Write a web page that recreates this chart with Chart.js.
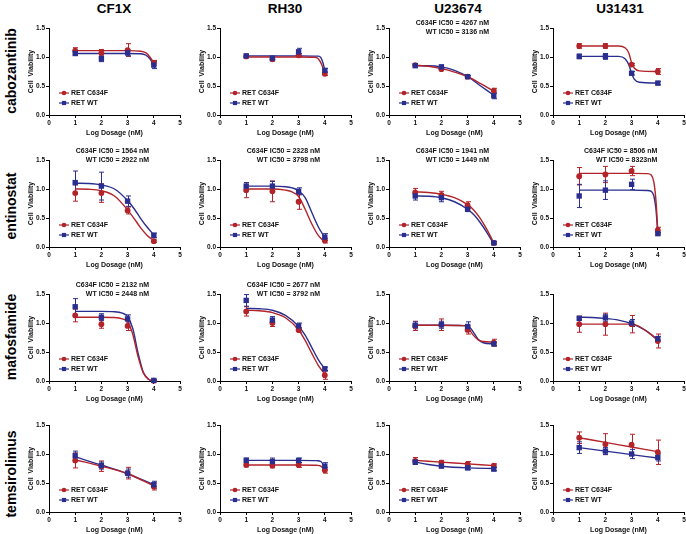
<!DOCTYPE html>
<html>
<head>
<meta charset="utf-8">
<script src="https://cdn.jsdelivr.net/npm/chart.js@4.4.1/dist/chart.umd.min.js"></script>
<style>
  html, body { margin: 0; padding: 0; background: #fff; overflow: hidden; }
  #fig { position: relative; width: 686px; height: 534px; font-family: 'Liberation Sans', Arial, sans-serif; }
  .colTitle { position: absolute; top: 0; font-weight: bold; font-size: 13.5px; line-height: 18px; transform: translateX(-50%); white-space: nowrap; }
  .rowTitle { position: absolute; left: 11px; font-weight: bold; font-size: 14px; line-height: 16px; transform: translate(-50%, -50%) rotate(-90deg); white-space: nowrap; }
  canvas { position: absolute; }
</style>
</head>
<body>
<div id="fig"></div>
<script>
// ---- data ----
const cellLines = ['CF1X', 'RH30', 'U23674', 'U31431'];
const drugs = ['cabozantinib', 'entinostat', 'mafosfamide', 'temsirolimus'];
const seriesNames = ['RET C634F', 'RET WT'];
const doses = [1, 2, 3, 4];
const xTicks = [0, 1, 2, 3, 4, 5];
const yTicks = [0, 0.5, 1.0, 1.5];

// cabozantinib, one row per cell line
const caboC634F = [[1.11, 1.07, 1.12, 0.90], [1.01, 0.96, 1.03, 0.71], [0.86, 0.79, 0.66, 0.42], [1.19, 1.19, 0.87, 0.75]];
const caboC634FErr = [[0.05, 0.06, 0.11, 0.04], [0.02, 0.03, 0.03, 0.03], [0.02, 0.02, 0.02, 0.04], [0.04, 0.04, 0.02, 0.05]];
const caboWT = [[1.06, 0.97, 1.07, 0.86], [1.02, 0.98, 1.09, 0.77], [0.85, 0.83, 0.66, 0.33], [1.01, 1.01, 0.72, 0.55]];
const caboWTErr = [[0.03, 0.05, 0.05, 0.06], [0.02, 0.02, 0.06, 0.03], [0.02, 0.03, 0.02, 0.05], [0.04, 0.05, 0.03, 0.03]];
const caboC634FFit = [
  [[1, 1.11], [2, 1.11], [3, 1.11], [3.5, 1.10], [3.7, 1.07], [3.85, 1.0], [4, 0.90]],
  [[1, 1.0], [2, 1.0], [3, 1.0], [3.6, 0.995], [3.75, 0.97], [3.88, 0.87], [4, 0.71]],
  [[1, 0.86], [1.5, 0.84], [2, 0.80], [2.5, 0.74], [3, 0.66], [3.5, 0.54], [4, 0.41]],
  [[1, 1.19], [2.5, 1.19], [2.75, 1.16], [2.9, 1.06], [3.0, 0.90], [3.1, 0.81], [3.3, 0.76], [4, 0.75]]
];
const caboWTFit = [
  [[1, 1.06], [2, 1.06], [3, 1.06], [3.5, 1.055], [3.7, 1.03], [3.85, 0.97], [4, 0.86]],
  [[1, 1.02], [2, 1.02], [3, 1.02], [3.75, 1.015], [3.85, 0.99], [3.93, 0.90], [4, 0.77]],
  [[1, 0.85], [1.5, 0.85], [2, 0.83], [2.5, 0.77], [3, 0.66], [3.5, 0.50], [4, 0.34]],
  [[1, 1.01], [2.5, 1.01], [2.75, 0.97], [2.9, 0.86], [3.0, 0.72], [3.1, 0.62], [3.3, 0.565], [4, 0.55]]
];

// entinostat
const entiC634F = [[0.93, 0.93, 0.63, 0.10], [0.98, 0.96, 0.78, 0.11], [0.94, 0.90, 0.72, 0.07], [1.22, 1.25, 1.31, 0.29]];
const entiC634FErr = [[0.14, 0.16, 0.06, 0.02], [0.13, 0.18, 0.13, 0.04], [0.07, 0.06, 0.06, 0.02], [0.15, 0.14, 0.08, 0.05]];
const entiWT = [[1.11, 1.05, 0.79, 0.20], [1.05, 1.05, 0.96, 0.17], [0.88, 0.85, 0.65, 0.07], [0.88, 0.98, 1.08, 0.23]];
const entiWTErr = [[0.20, 0.24, 0.09, 0.04], [0.06, 0.08, 0.06, 0.06], [0.07, 0.07, 0.04, 0.02], [0.20, 0.16, 0.09, 0.02]];
const entiC634FFit = [
  [[1, 1.0], [1.5, 0.995], [2, 0.97], [2.5, 0.88], [3, 0.64], [3.25, 0.49], [3.5, 0.33], [3.75, 0.20], [4, 0.11]],
  [[1, 1.0], [2, 1.0], [2.5, 0.98], [2.75, 0.95], [3, 0.87], [3.25, 0.65], [3.5, 0.40], [3.75, 0.20], [4, 0.09]],
  [[1, 0.95], [1.5, 0.94], [2, 0.91], [2.5, 0.85], [3, 0.73], [3.25, 0.63], [3.5, 0.48], [3.75, 0.29], [4, 0.07]],
  [[1, 1.27], [3, 1.27], [3.6, 1.265], [3.75, 1.24], [3.85, 1.12], [3.93, 0.80], [4, 0.28]]
];
const entiWTFit = [
  [[1, 1.10], [1.5, 1.095], [2, 1.07], [2.5, 1.0], [3, 0.80], [3.25, 0.66], [3.5, 0.49], [3.75, 0.34], [4, 0.21]],
  [[1, 1.05], [2, 1.05], [2.5, 1.04], [2.75, 1.02], [3, 0.97], [3.25, 0.85], [3.5, 0.60], [3.75, 0.35], [4, 0.16]],
  [[1, 0.88], [1.5, 0.875], [2, 0.85], [2.5, 0.78], [3, 0.65], [3.25, 0.55], [3.5, 0.41], [3.75, 0.24], [4, 0.05]],
  [[1, 0.98], [3, 0.98], [3.6, 0.975], [3.75, 0.96], [3.85, 0.88], [3.93, 0.65], [4, 0.23]]
];

// mafosfamide
const mafoC634F = [[1.13, 0.98, 0.95, 0.005], [1.20, 1.00, 0.88, 0.10], [0.95, 0.97, 0.88, 0.66], [0.98, 0.98, 0.98, 0.69]];
const mafoC634FErr = [[0.11, 0.07, 0.08, 0.01], [0.08, 0.06, 0.04, 0.07], [0.08, 0.10, 0.07, 0.06], [0.14, 0.19, 0.15, 0.12]];
const mafoWT = [[1.28, 1.10, 1.07, 0.01], [1.39, 1.05, 0.95, 0.21], [0.96, 0.97, 0.94, 0.64], [1.08, 1.09, 1.00, 0.73]];
const mafoWTErr = [[0.14, 0.06, 0.07, 0.01], [0.10, 0.06, 0.05, 0.03], [0.06, 0.06, 0.08, 0.03], [0.03, 0.06, 0.06, 0.04]];
const mafoC634FFit = [
  [[1, 1.10], [2, 1.10], [2.5, 1.095], [2.8, 1.07], [3, 1.02], [3.2, 0.80], [3.4, 0.42], [3.6, 0.14], [3.8, 0.03], [4, 0.0]],
  [[1, 1.22], [1.5, 1.21], [2, 1.18], [2.5, 1.09], [3, 0.88], [3.25, 0.70], [3.5, 0.48], [3.75, 0.27], [4, 0.12]],
  [[1, 0.96], [2, 0.96], [2.8, 0.955], [3, 0.93], [3.2, 0.80], [3.4, 0.71], [3.6, 0.68], [4, 0.67]],
  [[1, 0.98], [2, 0.98], [3, 0.98], [3.25, 0.95], [3.5, 0.88], [3.75, 0.80], [4, 0.70]]
];
const mafoWTFit = [
  [[1, 1.20], [2, 1.20], [2.5, 1.195], [2.8, 1.17], [3, 1.11], [3.2, 0.90], [3.4, 0.48], [3.6, 0.15], [3.8, 0.03], [4, 0.0]],
  [[1, 1.25], [1.5, 1.245], [2, 1.22], [2.5, 1.13], [3, 0.94], [3.25, 0.79], [3.5, 0.58], [3.75, 0.37], [4, 0.21]],
  [[1, 0.96], [2, 0.96], [2.9, 0.955], [3.1, 0.92], [3.25, 0.82], [3.4, 0.72], [3.6, 0.66], [4, 0.64]],
  [[1, 1.10], [1.5, 1.095], [2, 1.08], [2.5, 1.05], [3, 0.99], [3.5, 0.88], [4, 0.71]]
];

// temsirolimus
const temsC634F = [[0.89, 0.79, 0.67, 0.44], [0.81, 0.80, 0.81, 0.72], [0.88, 0.85, 0.83, 0.80], [1.28, 1.17, 1.16, 1.03]];
const temsC634FErr = [[0.13, 0.09, 0.10, 0.06], [0.03, 0.04, 0.04, 0.05], [0.06, 0.04, 0.04, 0.03], [0.10, 0.18, 0.18, 0.21]];
const temsWT = [[0.97, 0.80, 0.67, 0.47], [0.89, 0.87, 0.89, 0.79], [0.86, 0.79, 0.76, 0.74], [1.11, 1.05, 1.00, 0.94]];
const temsWTErr = [[0.08, 0.06, 0.07, 0.06], [0.04, 0.06, 0.04, 0.06], [0.04, 0.02, 0.03, 0.03], [0.10, 0.06, 0.08, 0.06]];
const temsC634FFit = [
  [[1, 0.90], [2, 0.79], [3, 0.66], [4, 0.45]],
  [[1, 0.81], [3, 0.81], [3.7, 0.805], [3.85, 0.79], [4, 0.72]],
  [[1, 0.89], [2, 0.86], [3, 0.83], [4, 0.80]],
  [[1, 1.28], [2, 1.20], [3, 1.12], [4, 1.04]]
];
const temsWTFit = [
  [[1, 0.95], [2, 0.81], [3, 0.66], [4, 0.47]],
  [[1, 0.89], [3, 0.89], [3.7, 0.885], [3.85, 0.87], [4, 0.78]],
  [[1, 0.86], [1.5, 0.82], [2, 0.79], [3, 0.76], [4, 0.75]],
  [[1, 1.11], [2, 1.05], [3, 0.99], [4, 0.93]]
];

const ic50Text = [
  [null, null, ['C634F IC50 = 4267 nM', 'WT IC50 = 3136 nM'], null],
  [['C634F IC50 = 1564 nM', 'WT IC50 = 2922 nM'], ['C634F IC50 = 2328 nM', 'WT IC50 = 3798 nM'],
   ['C634F IC50 = 1941 nM', 'WT IC50 = 1449 nM'], ['C634F IC50 = 8506 nM', 'WT IC50 = 8323nM']],
  [['C634F IC50 = 2132 nM', 'WT IC50 = 2448 nM'], ['C634F IC50 = 2677 nM', 'WT IC50 = 3792 nM'], null, null],
  [null, null, null, null]
];

const drugSeries = [
  [caboC634F, caboC634FErr, caboWT, caboWTErr, caboC634FFit, caboWTFit],
  [entiC634F, entiC634FErr, entiWT, entiWTErr, entiC634FFit, entiWTFit],
  [mafoC634F, mafoC634FErr, mafoWT, mafoWTErr, mafoC634FFit, mafoWTFit],
  [temsC634F, temsC634FErr, temsWT, temsWTErr, temsC634FFit, temsWTFit]
];

// ---- layout ----
const RED = '#b3232a';
const BLUE = '#2a2e8e';
const FONT = "'Liberation Sans', Arial, sans-serif";
const axisLeft = [49, 220, 389, 553];
const axisTop = [28, 160, 294, 425];
const colCenter = [114, 285, 458, 620];
const rowCenter = [71, 206, 337, 474];
const PLOT_W = 131, PLOT_H = 87;
const L = 40, T = 16, R = 8, B = 24;

const fig = document.getElementById('fig');

cellLines.forEach((name, c) => {
  const d = document.createElement('div');
  d.className = 'colTitle';
  d.style.left = colCenter[c] + 'px';
  d.textContent = name;
  fig.appendChild(d);
});
drugs.forEach((name, r) => {
  const d = document.createElement('div');
  d.className = 'rowTitle';
  d.style.top = rowCenter[r] + 'px';
  d.textContent = name;
  fig.appendChild(d);
});

function pts(xs, ys) {
  return xs.map((x, i) => ({ x: x, y: ys[i] }));
}

function marker(ctx, style, x, y, s) {
  if (style === 'circle') {
    ctx.beginPath();
    ctx.arc(x, y, s, 0, Math.PI * 2);
    ctx.fill();
  } else {
    ctx.fillRect(x - s, y - s, 2 * s, 2 * s);
  }
}

function extras(r, c) {
  const [m1, e1, m2, e2] = drugSeries[r];
  const note = ic50Text[r][c];
  return {
    id: 'extras',
    beforeDatasetsDraw(chart) {
      const { ctx, scales: { x, y } } = chart;
      ctx.save();
      ctx.lineWidth = 1;
      [[m1[c], e1[c], RED], [m2[c], e2[c], BLUE]].forEach(([m, e, col]) => {
        ctx.strokeStyle = col;
        doses.forEach((dv, i) => {
          const px = Math.round(x.getPixelForValue(dv)) + 0.5;
          const top = y.getPixelForValue(m[i] + e[i]);
          const bot = y.getPixelForValue(Math.max(m[i] - e[i], 0));
          ctx.beginPath();
          ctx.moveTo(px, top); ctx.lineTo(px, bot);
          ctx.moveTo(px - 2.5, top); ctx.lineTo(px + 2.5, top);
          ctx.moveTo(px - 2.5, bot); ctx.lineTo(px + 2.5, bot);
          ctx.stroke();
        });
      });
      ctx.restore();
    },
    afterDraw(chart) {
      const { ctx, chartArea: a, scales: { x } } = chart;
      ctx.save();
      // legend inside the plot, lower left
      ctx.font = 'bold 7px ' + FONT;
      ctx.textBaseline = 'middle';
      ctx.textAlign = 'left';
      [[RED, 'circle', 22], [BLUE, 'rect', 12]].forEach(([col, st, dy], k) => {
        const yy = a.bottom - dy;
        ctx.strokeStyle = col; ctx.fillStyle = col; ctx.lineWidth = 1.2;
        ctx.beginPath();
        ctx.moveTo(a.left + 10, yy); ctx.lineTo(a.left + 20, yy);
        ctx.stroke();
        marker(ctx, st, a.left + 15, yy, st === 'circle' ? 2.3 : 2.1);
        ctx.fillStyle = '#111';
        ctx.fillText(seriesNames[k], a.left + 22, yy + 0.5);
      });
      // IC50 note
      if (note) {
        ctx.font = 'bold 7px ' + FONT;
        ctx.textAlign = 'right';
        ctx.fillStyle = '#111';
        const rx = x.getPixelForValue(c === 3 ? 3.98 : 3.82);
        const y0 = r === 0 ? a.top - 5 : a.top - 9;
        ctx.fillText(note[0], rx, y0);
        ctx.fillText(note[1], rx, y0 + 9);
      }
      ctx.restore();
    }
  };
}

function makePanel(r, c) {
  const [m1, , m2, , f1, f2] = drugSeries[r];
  const cv = document.createElement('canvas');
  cv.width = L + PLOT_W + R;
  cv.height = T + PLOT_H + B;
  cv.style.left = (axisLeft[c] - L) + 'px';
  cv.style.top = (axisTop[r] - T) + 'px';
  fig.appendChild(cv);

  const tickFont = { family: FONT, size: 6.5, weight: 'bold' };
  const titleFont = { family: FONT, size: 7, weight: 'bold' };
  const grid = { display: true, drawOnChartArea: false, drawTicks: true, tickLength: 3, color: '#000', lineWidth: 1 };

  new Chart(cv, {
    type: 'scatter',
    data: {
      datasets: [
        { data: f1[c].map(p => ({ x: p[0], y: p[1] })), showLine: true, pointRadius: 0, borderColor: RED,
          borderWidth: 1.4, cubicInterpolationMode: 'monotone', order: 2, clip: false },
        { data: f2[c].map(p => ({ x: p[0], y: p[1] })), showLine: true, pointRadius: 0, borderColor: BLUE,
          borderWidth: 1.4, cubicInterpolationMode: 'monotone', order: 3, clip: false },
        { data: pts(doses, m1[c]), pointStyle: 'circle', pointRadius: 2.9, backgroundColor: RED,
          borderColor: RED, borderWidth: 0, order: 1, clip: false },
        { data: pts(doses, m2[c]), pointStyle: 'rect', pointRadius: 3.8, backgroundColor: BLUE,
          borderColor: BLUE, borderWidth: 0, order: 0, clip: false }
      ]
    },
    options: {
      responsive: false,
      animation: false,
      events: [],
      layout: { padding: { left: 0, top: T, right: R, bottom: 0 } },
      plugins: { legend: { display: false }, tooltip: { enabled: false } },
      scales: {
        x: {
          type: 'linear', min: 0, max: 5,
          afterBuildTicks: s => { s.ticks = xTicks.map(v => ({ value: v })); },
          afterFit: s => { s.height = B; },
          grid: grid,
          border: { display: true, color: '#000', width: 1 },
          ticks: { font: tickFont, color: '#111', padding: 1, maxRotation: 0, autoSkip: false },
          title: { display: true, text: 'Log Dosage (nM)', font: titleFont, color: '#111', padding: { top: 0, bottom: 2 } }
        },
        y: {
          type: 'linear', min: 0, max: 1.5,
          afterBuildTicks: s => { s.ticks = yTicks.map(v => ({ value: v })); },
          afterFit: s => { s.width = L; },
          grid: grid,
          border: { display: true, color: '#000', width: 1 },
          ticks: { font: tickFont, color: '#111', padding: 1, callback: v => Number(v).toFixed(1) },
          title: { display: true, text: 'Cell  Viability', font: titleFont, color: '#111', padding: { top: 18, bottom: 0 } }
        }
      }
    },
    plugins: [extras(r, c)]
  });
}

for (let r = 0; r < 4; r++) {
  for (let c = 0; c < 4; c++) makePanel(r, c);
}
</script>
</body>
</html>
